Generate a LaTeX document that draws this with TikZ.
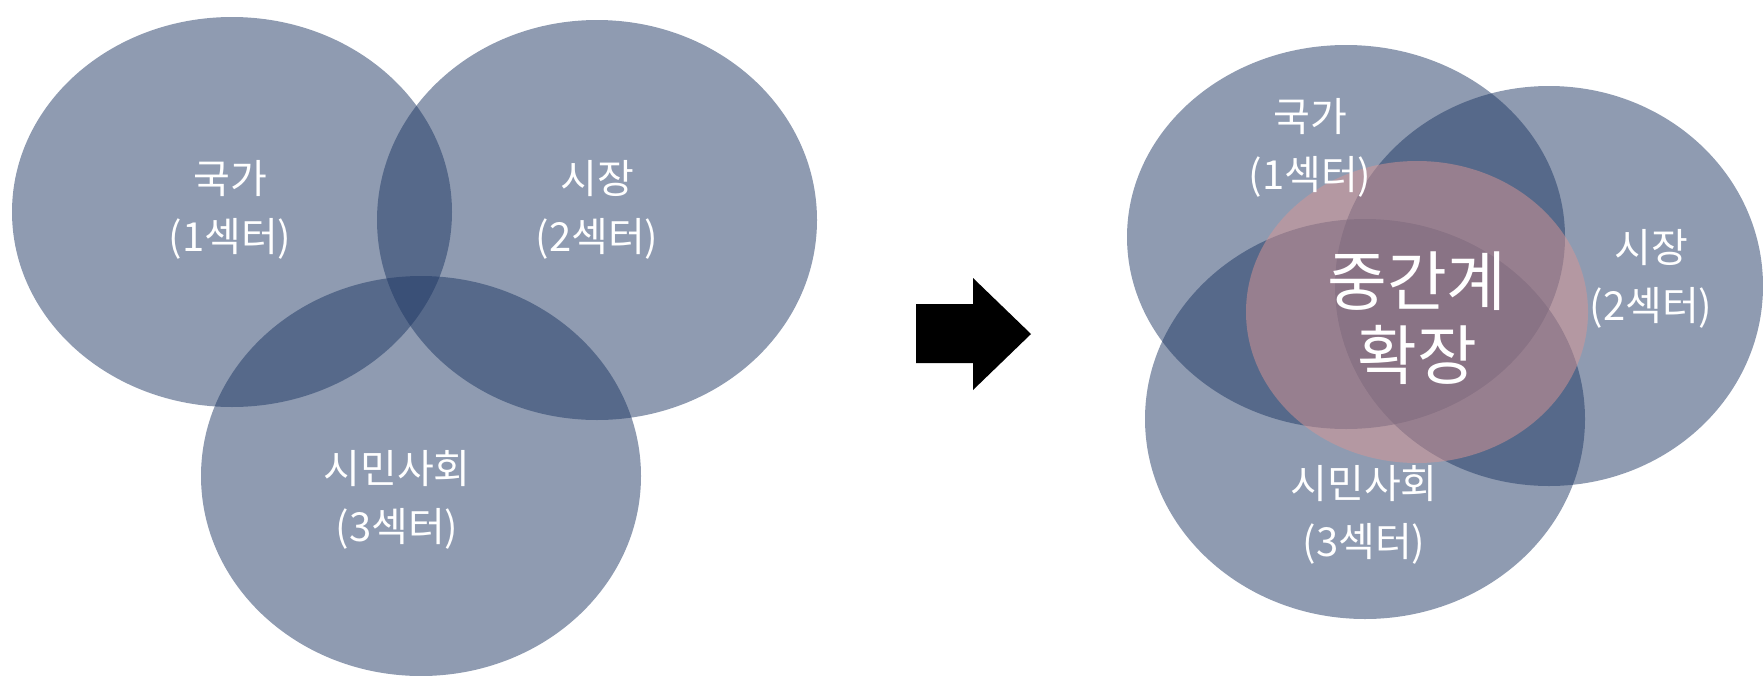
\documentclass[tikz,border=0pt]{standalone}
\usepackage{fontspec}
\newfontfamily\krfont{Noto Sans CJK KR}
\usetikzlibrary{shapes.geometric}
\definecolor{sectorblue}{HTML}{1F3864}
\definecolor{middlepink}{HTML}{D99694}

\begin{document}
\begin{tikzpicture}[x=1pt, y=-1pt,
  sectorfill/.style={ellipse, fill=sectorblue, fill opacity=0.5, inner sep=0pt,
    minimum width=440pt, minimum height=396pt},
  middlefill/.style={ellipse, fill=middlepink, fill opacity=0.5, inner sep=0pt,
    minimum width=342pt, minimum height=302pt},
  sectortext/.style={text=white, align=center, font=\krfont\fontsize{40}{58}\selectfont},
  middletext/.style={text=white, align=center, font=\krfont\fontsize{65}{74}\selectfont}]
  \useasboundingbox (0,0) rectangle (1763,675);

  % before
  \node[sectorfill, minimum height=390pt] (state) at (232,212) {};
  \node[sectorfill, minimum height=400pt] (market) at (597,220) {};
  \node[sectorfill, minimum height=400pt] (civil) at (421,476) {};

  % arrow
  \fill (916,304) -- (973,304) -- (973,278) -- (1031,334) -- (973,390) -- (973,363) -- (916,363) -- cycle;

  % after
  \node[sectorfill, minimum width=438pt, minimum height=384pt] (state2) at (1346,237) {};
  \node[sectorfill, minimum width=428pt, minimum height=400pt] (market2) at (1549,286) {};
  \node[sectorfill, minimum height=400pt] (civil2) at (1365,419) {};
  \node[middlefill] (middle) at (1417,312) {};

  \node[sectortext] (stateT) at (230,210) {국가\\(1섹터)};
  \node[sectortext] (marketT) at (597,210) {시장\\(2섹터)};
  \node[sectortext] (civilT) at (397,500) {시민사회\\(3섹터)};

  \node[sectortext] (state2T) at (1310,148) {국가\\(1섹터)};
  \node[sectortext] (market2T) at (1651,279) {시장\\(2섹터)};
  \node[sectortext] (civil2T) at (1364,515) {시민사회\\(3섹터)};
  \node[middletext] (middleT) at (1417,318) {중간계\\확장};
\end{tikzpicture}
\end{document}
